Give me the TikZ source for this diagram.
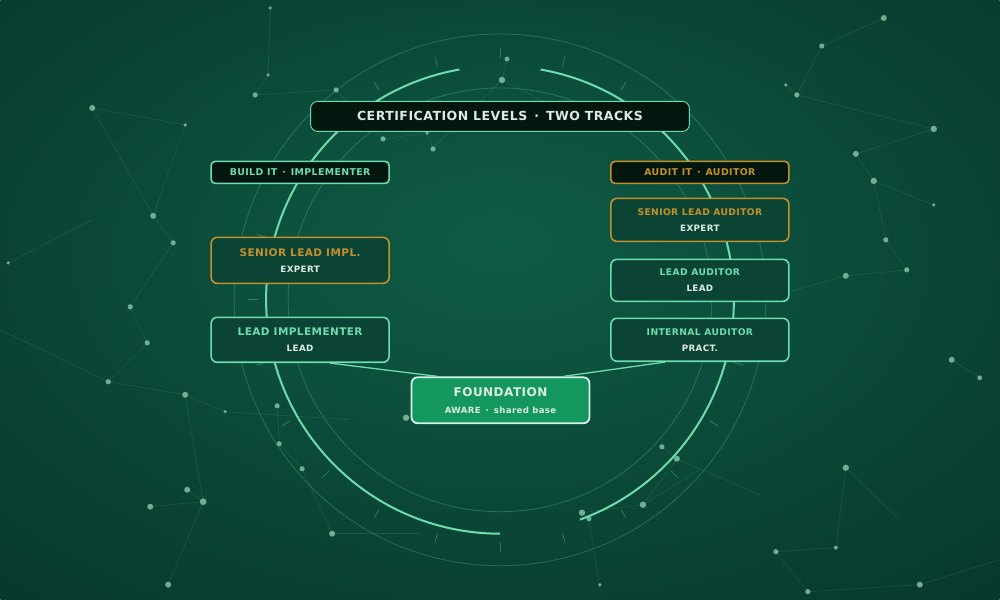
\documentclass[tikz,border=0pt]{standalone}
\usepackage{fontspec}
\setmainfont{DejaVu Sans}
\newfontfamily\trackfont{DejaVu Sans}[LetterSpace=4.0]
\definecolor{bgcore}{HTML}{0F5C46}
\definecolor{bgmid}{HTML}{0A4636}
\definecolor{bgedge}{HTML}{063126}
\definecolor{bgcorner}{HTML}{04211A}
\definecolor{mint}{HTML}{6EDCAE}
\definecolor{gold}{HTML}{C4902C}
\definecolor{boxdark}{HTML}{03170F}
\definecolor{boxfill}{HTML}{0B4434}
\definecolor{found}{HTML}{14975F}
\definecolor{foundrim}{HTML}{D6F3E6}
\definecolor{paletext}{HTML}{DCEBE4}
\definecolor{dotcol}{HTML}{93CFB2}
\pgfdeclareradialshading{bgglow}{\pgfpoint{0bp}{5bp}}{color(0bp)=(bgcore); color(22bp)=(bgmid); color(45bp)=(bgedge); color(70bp)=(bgcorner)}
\tikzset{
  netline/.style={dotcol, opacity=0.15, line width=0.6pt},
  netdot/.style={dotcol, opacity=0.75},
  ring/.style={mint, line width=2pt},
  faintring/.style={mint, opacity=0.28, line width=0.8pt},
  ringtick/.style={mint, opacity=0.35, line width=0.8pt},
  link/.style={mint, line width=1.3pt},
  title/.style={draw=mint, fill=boxdark, rounded corners=7pt, line width=0.9pt,
    minimum width=379pt, minimum height=30pt, inner sep=0pt, text=paletext,
    font=\trackfont\bfseries\fontsize{12.5}{14}\selectfont},
  header/.style={fill=boxdark, rounded corners=4pt, line width=1.6pt,
    minimum width=178pt, minimum height=22pt, inner sep=0pt,
    font=\trackfont\bfseries\fontsize{9.4}{10}\selectfont},
  level/.style={fill=boxfill, rounded corners=6pt, line width=1.6pt,
    minimum width=178pt, inner sep=0pt, align=center,
    font=\trackfont\bfseries\fontsize{8.8}{16}\selectfont},
  base/.style={draw=foundrim, fill=found, rounded corners=6pt, line width=1.8pt,
    minimum width=178pt, minimum height=46pt, inner sep=0pt, align=center,
    text=paletext, font=\trackfont\bfseries\fontsize{8.6}{17}\selectfont},
}
\newcommand\twoline[4]{{\color{#3}\fontsize{#4}{12}\selectfont #1}\\{\color{paletext}#2}}
\begin{document}
\begin{tikzpicture}[x=1pt,y=-1pt]
  \def\cx{500}
  \def\cy{300}

  % background
  \shade[shading=bgglow] (0,0) rectangle (1000,600);

  % network in the back
  \foreach \xa/\ya/\xb/\yb in {270/8/268/75, 268/75/255/95, 255/95/336/90, 336/90/383/139,
      383/139/427/133, 427/133/433/149, 507/59/502/80, 502/80/433/148, 502/80/600/130,
      92/108/185/125, 185/125/153/216, 92/108/153/216, 153/216/173/243, 173/243/130/307,
      130/307/147/343, 147/343/108/382, 108/382/185/395, 185/395/225/412, 185/395/203/502,
      187/490/203/502, 150/507/203/502, 203/502/168/585, 277/406/279/444, 279/444/302/469,
      302/469/332/534, 332/534/420/534, 8/263/92/220, 0/330/108/382, 225/412/350/420,
      884/18/822/46, 822/46/797/95, 786/85/797/95, 797/95/934/129, 934/129/856/154,
      856/154/874/181, 874/181/934/205, 874/181/886/240, 886/240/907/270, 907/270/846/276,
      846/276/760/300, 952/360/980/378, 846/468/836/548, 836/548/776/552, 776/552/808/592,
      808/592/920/585, 662/447/677/459, 677/459/643/505, 643/505/582/513, 582/513/589/519,
      589/519/600/590, 643/505/700/470, 846/468/900/520, 920/585/1000/560, 677/459/760/495} {
    \draw[netline] (\xa,\ya) -- (\xb,\yb);
  }
  \foreach \x/\y/\r in {270/8/1.8, 268/75/1.8, 255/95/2.6, 336/90/2.6, 383/139/2.6, 433/149/2.6,
      427/133/1.8, 507/59/2.4, 502/80/3.2, 92/108/3, 185/125/1.8, 153/216/3, 173/243/2.6,
      8/263/1.8, 130/307/2.6, 147/343/2.6, 108/382/2.6, 185/395/3, 225/412/1.8, 203/502/3.4,
      187/490/3, 150/507/3, 168/585/3, 277/406/2.6, 279/444/2.6, 302/469/2.6, 332/534/3,
      406/418/3.2, 884/18/3, 822/46/2.6, 797/95/2.6, 786/85/1.8, 934/129/3.2, 856/154/3,
      874/181/3.2, 934/205/1.8, 886/240/2.6, 907/270/2.6, 846/276/3, 952/360/3, 980/378/2.4,
      846/468/3.2, 836/548/2, 776/552/2.6, 808/592/2.6, 920/585/3, 662/447/2.6, 677/459/3,
      643/505/3.2, 582/513/3.2, 589/519/2.6, 600/585/1.8} {
    \fill[netdot] (\x,\y) circle (\r);
  }

  % rings round the centre
  \begin{scope}[shift={(\cx,\cy)}]
    \draw[faintring] (0,0) circle (212);
    \draw[faintring] (0,0) circle (266);
    \foreach \a in {0,15,...,345} {
      \draw[ringtick] (\a:242) -- (\a:252);
    }
    \draw[ring] (-100:234) arc[start angle=-100, end angle=-270, radius=234];
    \draw[ring] (-80:234) arc[start angle=-80, end angle=70, radius=234];
  \end{scope}

  % boxes
  \node[title] (ttl) at (500,116.5) {CERTIFICATION LEVELS\hspace{7pt}·\hspace{7pt}TWO TRACKS};

  \node[header, draw=mint, text=mint] (build) at (300,172.5) {BUILD IT\hspace{5pt}·\hspace{5pt}IMPLEMENTER};
  \node[header, draw=gold, text=gold] (audit) at (700,172.5) {AUDIT IT\hspace{5pt}·\hspace{5pt}AUDITOR};

  \node[level, draw=gold, minimum height=46pt] (sli) at (300,260.5) {\twoline{SENIOR LEAD IMPL.}{EXPERT}{gold}{10.5}};
  \node[level, draw=mint, minimum height=45pt] (li) at (300,340) {\twoline{LEAD IMPLEMENTER}{LEAD}{mint}{10.5}};

  \node[level, draw=gold, minimum height=43pt] (sla) at (700,220) {\twoline{SENIOR LEAD AUDITOR}{EXPERT}{gold}{9.2}};
  \node[level, draw=mint, minimum height=42pt] (la) at (700,280.5) {\twoline{LEAD AUDITOR}{LEAD}{mint}{9.2}};
  \node[level, draw=mint, minimum height=43pt] (ia) at (700,340) {\twoline{INTERNAL AUDITOR}{PRACT.}{mint}{9.2}};

  \node[base] (fnd) at (500.5,400.5) {{\fontsize{12}{12}\selectfont FOUNDATION}\\AWARE\hspace{5pt}·\hspace{5pt}shared base};

  % both tracks start from the shared base
  \draw[link] ([xshift=30pt]li.south) -- ([xshift=-63pt]fnd.north);
  \draw[link] ([xshift=-35pt]ia.south) -- ([xshift=63pt]fnd.north);
\end{tikzpicture}
\end{document}
